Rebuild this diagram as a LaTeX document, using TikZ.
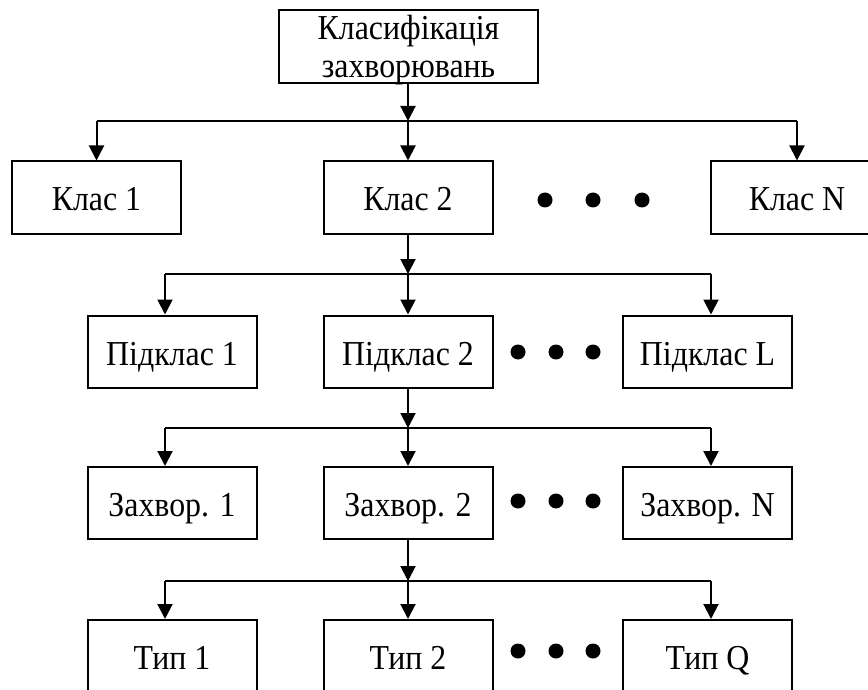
\documentclass[tikz,border=0pt]{standalone}
\usepackage{fontspec}
\setmainfont[FakeStretch=0.91]{Liberation Serif}
\usetikzlibrary{arrows.meta}
\begin{document}
\begin{tikzpicture}[x=1pt,y=-1pt,
  box/.style={draw,line width=2pt,inner sep=0pt,minimum height=72pt,minimum width=169pt,
    font=\fontsize{35}{38}\selectfont,align=center,text height=28pt,text depth=1pt},
  conn/.style={line width=2pt},
  arr/.style={conn,-{Triangle[length=15pt,width=15pt]}},
  bigdot/.style={circle,fill,inner sep=0pt,minimum size=15pt}]
\useasboundingbox (0,0) rectangle (868,690);
\clip (0,0) rectangle (868,690);
% root
\node[box,minimum width=259pt,minimum height=73pt,text height=,text depth=-7pt] (root) at (408.5,46.5) {Класифікація\\захворювань};
% row 1
\node[box] (c1) at (96.5,197.5) {Клас 1};
\node[box] (c2) at (408,197.5) {Клас 2};
\node[box,minimum width=172pt] (cN) at (797,197.5) {Клас N};
\node[bigdot] (d1a) at (545,200) {};
\node[bigdot] (d1b) at (593,200) {};
\node[bigdot] (d1c) at (642,200) {};
\coordinate (b1l) at (96.5,121);
\coordinate (b1m) at (408,121);
\coordinate (b1r) at (797,121);
\draw[arr] (root.south -| b1m) -- (b1m);
\draw[conn] (b1l) -- (b1r);
\draw[arr] (b1l) -- (b1l |- c1.north);
\draw[arr] (b1m) -- (b1m |- c2.north);
\draw[arr] (b1r) -- (b1r |- cN.north);
% row 2
\node[box] (p1) at (172,351.5) {Підклас 1};
\node[box] (p2) at (408,351.5) {Підклас 2};
\node[box] (pL) at (707.5,351.5) {Підклас L};
\node[bigdot] (d2a) at (518,352) {};
\node[bigdot] (d2b) at (556,352) {};
\node[bigdot] (d2c) at (593,352) {};
\coordinate (b2l) at (165,274);
\coordinate (b2m) at (408,274);
\coordinate (b2r) at (711,274);
\draw[arr] (c2.south) -- (b2m);
\draw[conn] (b2l) -- (b2r);
\draw[arr] (b2l) -- (b2l |- p1.north);
\draw[arr] (b2m) -- (b2m |- p2.north);
\draw[arr] (b2r) -- (b2r |- pL.north);
% row 3
\node[box] (z1) at (172,503) {Захвор. 1};
\node[box] (z2) at (408,503) {Захвор. 2};
\node[box] (zN) at (707.5,503) {Захвор. N};
\node[bigdot] (d3a) at (518,501) {};
\node[bigdot] (d3b) at (556,501) {};
\node[bigdot] (d3c) at (593,501) {};
\coordinate (b3l) at (165,428);
\coordinate (b3m) at (408,428);
\coordinate (b3r) at (711,428);
\draw[arr] (p2.south) -- (b3m);
\draw[conn] (b3l) -- (b3r);
\draw[arr] (b3l) -- (b3l |- z1.north);
\draw[arr] (b3m) -- (b3m |- z2.north);
\draw[arr] (b3r) -- (b3r |- zN.north);
% row 4
\node[box] (t1) at (172,656) {Тип 1};
\node[box] (t2) at (408,656) {Тип 2};
\node[box] (tQ) at (707.5,656) {Тип Q};
\node[bigdot] (d4a) at (518,651) {};
\node[bigdot] (d4b) at (556,651) {};
\node[bigdot] (d4c) at (593,651) {};
\coordinate (b4l) at (165,581);
\coordinate (b4m) at (408,581);
\coordinate (b4r) at (711,581);
\draw[arr] (z2.south) -- (b4m);
\draw[conn] (b4l) -- (b4r);
\draw[arr] (b4l) -- (b4l |- t1.north);
\draw[arr] (b4m) -- (b4m |- t2.north);
\draw[arr] (b4r) -- (b4r |- tQ.north);
\end{tikzpicture}
\end{document}
